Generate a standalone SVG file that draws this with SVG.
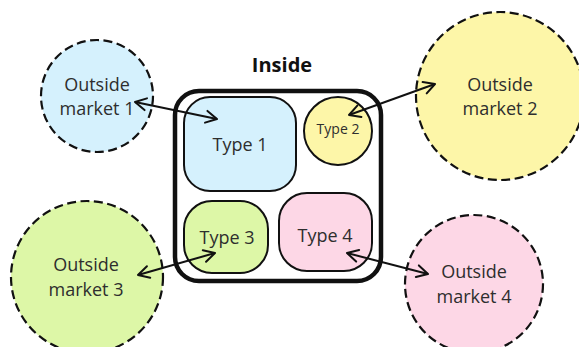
<svg xmlns="http://www.w3.org/2000/svg" width="579" height="347" viewBox="0 0 579 347">
<defs>
<style>
.mkt{stroke:#111;stroke-width:2.2;stroke-dasharray:9 4.5}
.typ{stroke:#111;stroke-width:2}
.lbl{font-family:"Open Sans","Liberation Sans",sans-serif;font-size:18px;fill:#2e2e2e;text-anchor:middle}
.sm{font-size:14px}
.title{font-family:"Open Sans","Liberation Sans",sans-serif;font-size:20px;font-weight:bold;fill:#111;text-anchor:middle}
.conn{stroke:#111;stroke-width:2;fill:none;marker-start:url(#ah);marker-end:url(#ah)}
</style>
<marker id="ah" viewBox="0 0 14 14" refX="12" refY="7" markerWidth="14" markerHeight="14" markerUnits="userSpaceOnUse" orient="auto-start-reverse" overflow="visible">
<path d="M1,1 L12,7 L1,13" fill="none" stroke="#111" stroke-width="2" stroke-linecap="round" stroke-linejoin="round"/>
</marker>
</defs>
<rect width="579" height="347" fill="#fff"/>
<g id="market1"><circle class="mkt" cx="97" cy="96" r="56" fill="#d5f1fd"/><text class="lbl" x="97" y="91">Outside</text><text class="lbl" x="97" y="115">market 1</text></g>
<g id="market2"><circle class="mkt" cx="500" cy="96" r="84" fill="#fdf6a8"/><text class="lbl" x="500" y="91">Outside</text><text class="lbl" x="500" y="115">market 2</text></g>
<g id="market3"><circle class="mkt" cx="87" cy="277" r="76" fill="#ddf7a7"/><text class="lbl" x="86" y="271">Outside</text><text class="lbl" x="86" y="296">market 3</text></g>
<g id="market4"><circle class="mkt" cx="474" cy="284" r="69" fill="#fdd7e6"/><text class="lbl" x="474" y="278">Outside</text><text class="lbl" x="474" y="303">market 4</text></g>
<g id="inside"><rect x="175" y="91" width="206" height="190" rx="24" fill="#fff" stroke="#111" stroke-width="4.5"/><text class="title" x="282" y="72">Inside</text></g>
<g id="type1"><rect class="typ" x="184" y="97" width="112" height="94" rx="26" fill="#d5f1fd"/><text class="lbl" x="240" y="151">Type 1</text></g>
<g id="type2"><circle class="typ" cx="338" cy="131" r="34" fill="#fdf6a8"/><text class="lbl sm" x="338" y="134">Type 2</text></g>
<g id="type3"><rect class="typ" x="184" y="201" width="84" height="72" rx="28" fill="#ddf7a7"/><text class="lbl" x="227" y="244">Type 3</text></g>
<g id="type4"><rect class="typ" x="279" y="193" width="93" height="78" rx="28" fill="#fdd7e6"/><text class="lbl" x="325" y="242">Type 4</text></g>
<g id="connectors">
<line class="conn" x1="135" y1="102" x2="217" y2="119"/>
<line class="conn" x1="349" y1="115" x2="435" y2="84"/>
<line class="conn" x1="138" y1="275" x2="215" y2="253"/>
<line class="conn" x1="347" y1="253" x2="428" y2="274"/>
</g>
</svg>
